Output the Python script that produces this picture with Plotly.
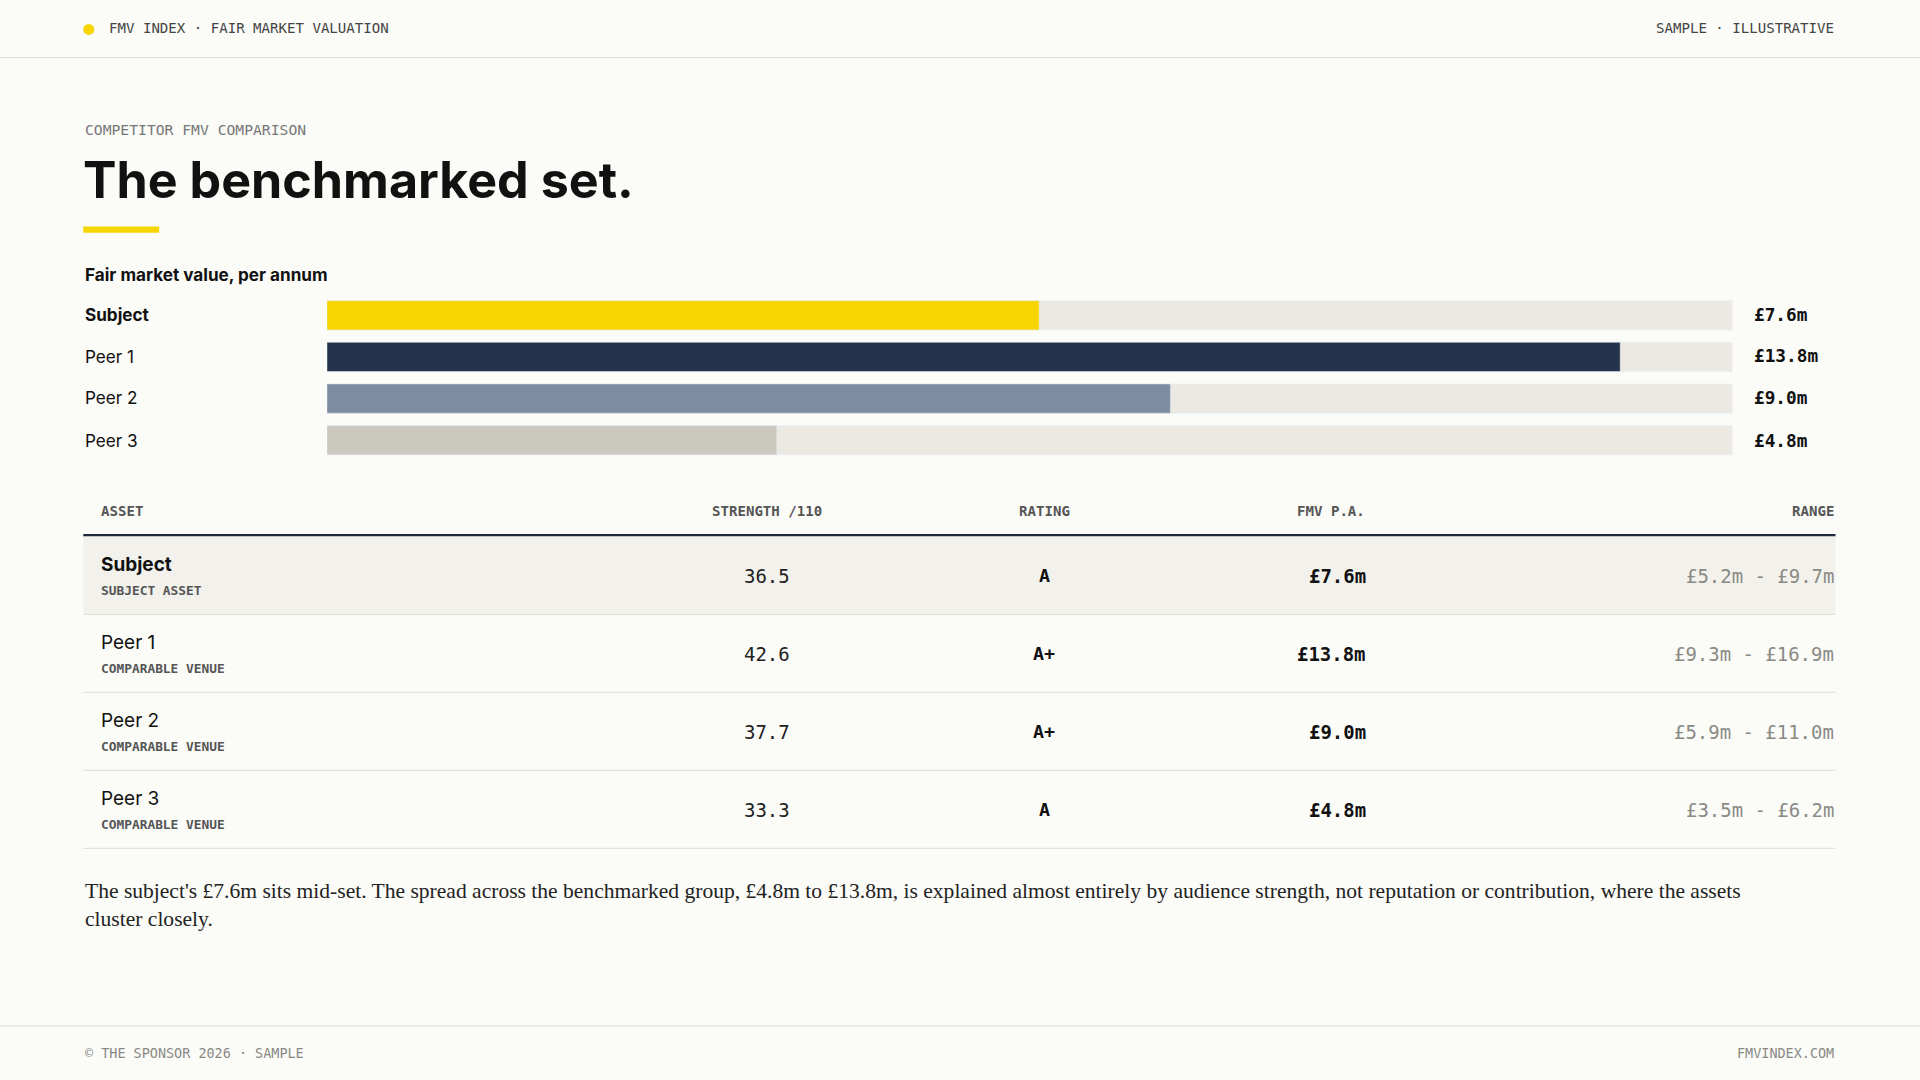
import plotly.graph_objects as go

names = ["Subject", "Peer 1", "Peer 2", "Peer 3"]
subs = ["SUBJECT ASSET", "COMPARABLE VENUE", "COMPARABLE VENUE", "COMPARABLE VENUE"]
fmv = [7.6, 13.8, 9.0, 4.8]
strength = [36.5, 42.6, 37.7, 33.3]
rating = ["A", "A+", "A+", "A"]
range_lo = [5.2, 9.3, 5.9, 3.5]
range_hi = [9.7, 16.9, 11.0, 6.2]
bar_colors = ["#F7D500", "#25344D", "#7D8CA0", "#CBC8BF"]
axis_max = 15.0

W, H = 1568, 882
S = 1920 / W
def X(x): return x / W
def Y(y): return 1 - y / H

MONO = "DejaVu Sans Mono"
SANS = "Inter"
SERIF = "Liberation Serif"
BG = "#FBFBF8"

fig = go.Figure()
fig.add_trace(go.Bar(y=names, x=[axis_max]*4, orientation="h", marker_color="#EBE9E2",
                     hoverinfo="skip", showlegend=False))
fig.add_trace(go.Bar(y=names, x=fmv, orientation="h", marker_color=bar_colors,
                     showlegend=False))

ann = []
shapes = []
def T(x, y, text, size, color="#1A1A1A", family=MONO, xanchor="left", bold=False):
    if bold:
        text = "<b>" + text + "</b>"
    ann.append(dict(x=X(x), y=Y(y), xref="paper", yref="paper", text=text, showarrow=False,
                    xanchor=xanchor, yanchor="middle", font=dict(size=size*S, color=color, family=family)))
def L(x0, x1, y, color, w):
    shapes.append(dict(type="line", xref="paper", yref="paper", x0=X(x0), x1=X(x1), y0=Y(y), y1=Y(y),
                       line=dict(color=color, width=w*S)))
def R(x0, x1, y0, y1, color):
    shapes.append(dict(type="rect", xref="paper", yref="paper", x0=X(x0), x1=X(x1), y0=Y(y1), y1=Y(y0),
                       fillcolor=color, line_width=0, layer="below"))

# header / footer
shapes.append(dict(type="circle", xref="paper", yref="paper", x0=X(68), x1=X(77), y0=Y(28.5), y1=Y(19.5),
                   fillcolor="#F7D500", line_width=0))
T(87, 23, "FMV INDEX · FAIR MARKET VALUATION", 11.5, "#444")
T(1499, 23, "SAMPLE · ILLUSTRATIVE", 11.5, "#444", xanchor="right")
L(0, W, 47, "#E2E1DC", 1)
L(0, W, 838, "#E2E1DC", 1)
T(68, 860, "© THE SPONSOR 2026 · SAMPLE", 11, "#8A8A85")
T(1499, 860, "FMVINDEX.COM", 11, "#8A8A85", xanchor="right")

T(68, 106, "COMPETITOR FMV COMPARISON", 12, "#777")
T(66, 147, "The benchmarked set.", 41, "#111", SANS, bold=True)
R(68, 130, 185, 190, "#F7D500")
T(68, 224, "Fair market value, per annum", 14, "#111", SANS, bold=True)

bar_y = [257, 291, 325, 360]
for i, n in enumerate(names):
    T(68, bar_y[i], n, 14, "#111", SANS, bold=(i == 0))
    T(1431, bar_y[i], f"£{fmv[i]:.1f}m", 14.5, "#111", MONO, bold=True)

# table
for x, t, xa in [(81, "ASSET", "left"), (626, "STRENGTH /110", "center"), (853, "RATING", "center"),
                 (1116, "FMV P.A.", "right"), (1499, "RANGE", "right")]:
    T(x, 417, t, 11.5, "#555", MONO, xanchor=xa, bold=True)
R(68, 1499, 438, 501, "#F2F1EC")
L(68, 1499, 437, "#1F2A3F", 2)
for k in range(4):
    top = 438 + k * 63.7
    L(68, 1499, top + 63.7, "#E2E1DC", 1)
    T(81, top + 23, names[k], 15.5, "#111", SANS, bold=(k == 0))
    T(81, top + 44, subs[k], 10.5, "#555", MONO, bold=True)
    T(626, top + 32, f"{strength[k]:.1f}", 15.5, "#222", MONO, xanchor="center")
    T(853, top + 32, rating[k], 15, "#111", MONO, xanchor="center", bold=True)
    T(1117, top + 32, f"£{fmv[k]:.1f}m", 15.5, "#111", MONO, xanchor="right", bold=True)
    T(1499, top + 32, f"£{range_lo[k]:.1f}m - £{range_hi[k]:.1f}m", 15.5, "#8A8A85", MONO, xanchor="right")

ann.append(dict(x=X(68), y=Y(716), xref="paper", yref="paper", showarrow=False, xanchor="left",
                yanchor="top", align="left",
                text="The subject's £7.6m sits mid-set. The spread across the benchmarked group, £4.8m to £13.8m, is explained almost entirely by audience strength, not reputation or contribution, where the assets<br>cluster closely.",
                font=dict(size=17.6*S, color="#222", family=SERIF)))

fig.update_layout(
    width=1920, height=1080, margin=dict(l=0, r=0, t=0, b=0),
    paper_bgcolor=BG, plot_bgcolor=BG, barmode="overlay", bargap=0.3,
    xaxis=dict(domain=[X(267), X(1415)], range=[0, axis_max], visible=False, fixedrange=True),
    yaxis=dict(domain=[Y(376.5), Y(240.5)], autorange="reversed", visible=False, fixedrange=True),
    annotations=ann, shapes=shapes,
)
fig.write_html("out.html", config={"displayModeBar": False},
               post_script="document.body.style.margin='0';document.body.style.background='#FBFBF8';")
